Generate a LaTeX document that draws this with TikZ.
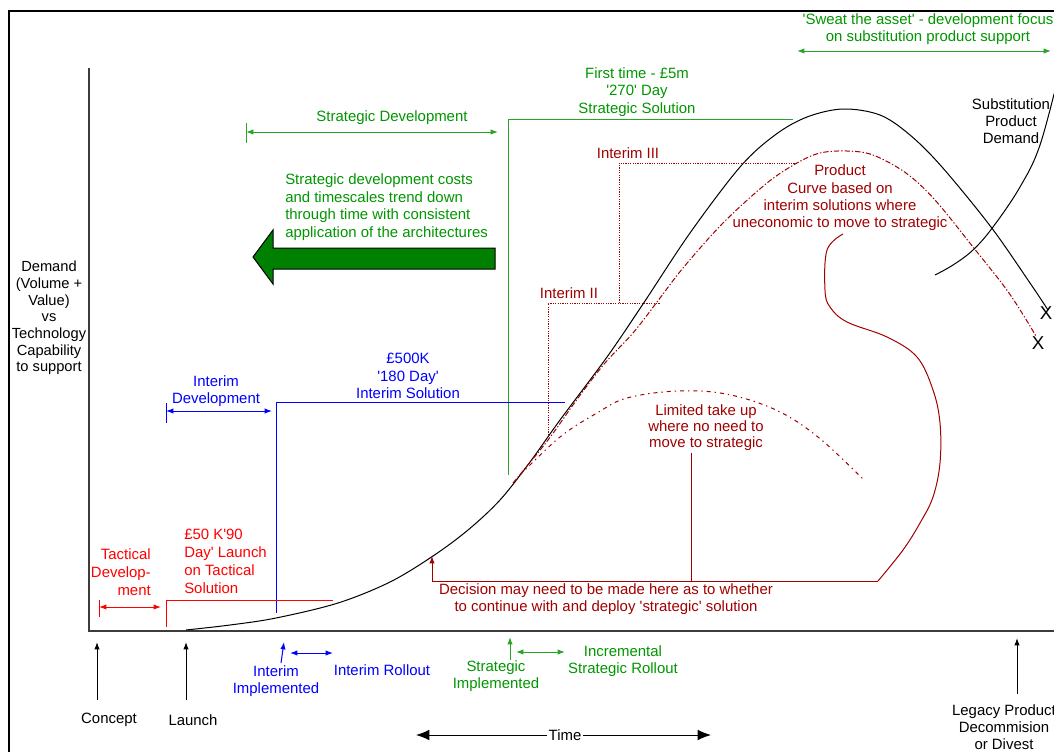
\documentclass[tikz,border=0pt]{standalone}
\usepackage{fontspec}
\newfontfamily\lab{Liberation Sans}
\usetikzlibrary{arrows.meta}
\definecolor{gtext}{RGB}{0,150,0}
\definecolor{gline}{RGB}{40,165,40}
\definecolor{garrow}{RGB}{0,128,0}
\definecolor{dred}{RGB}{160,0,0}
\definecolor{axisgray}{RGB}{60,60,60}
\begin{document}
\begin{tikzpicture}[x=0.75pt,y=-0.75pt,
  txt/.style={font=\lab\fontsize{11.2}{13}\selectfont, inner sep=0pt, align=center},
  tip/.style={-{Latex[length=5.5pt,width=4pt]}},
  dtip/.style={{Latex[length=5.5pt,width=4pt]}-{Latex[length=5.5pt,width=4pt]}},
  ln/.style={line width=0.75pt},
  dashdot/.style={dred, line width=0.75pt, dash pattern=on 4pt off 1.5pt on 1pt off 1.5pt},
  sparse/.style={dred, line width=0.75pt, dash pattern=on 3pt off 3pt on 1pt off 3pt},
  dotline/.style={dred, line width=0.75pt, dash pattern=on 0.9pt off 0.9pt},
  curve/.style={black, line width=0.75pt}
]
\useasboundingbox (0,0) rectangle (1054,751);
\clip (0,0) rectangle (1054,751);
\fill[white] (0,0) rectangle (1054,751);
% frame
\draw[line width=1.5pt] (1100,11) -- (9,11) -- (9,800);
% axes
\draw[axisgray, line width=1.5pt] (89,68) -- (89,631) -- (1080,631);

% y label
\node[txt, font=\lab\fontsize{11}{12.5}\selectfont] (ylab) at (49,318) {Demand\\(Volume +\\Value)\\vs\\Technology\\Capability\\to support};

% ---------- curves ----------
\draw[curve] plot[smooth, tension=0.55] coordinates {(186,630) (230,625) (276,618) (338,603) (390,582) (433,556) (468,530) (500,500) (530,462) (560,420) (607,357) (643,304) (690,233) (740,167) (775,135) (807,117) (843,109) (880,115) (910,135) (942,167) (991,227) (1030,283) (1048,310)};
\draw[dashdot] plot[smooth, tension=0.55] coordinates {(513,483) (548,440) (578,398) (605,363) (633,333) (657,302) (683,268) (723,223) (767,183) (797,163) (820,153) (847,151) (873,155) (906,173) (935,200) (973,247) (1009,293) (1036,336)};
\draw[sparse] plot[smooth, tension=0.6] coordinates {(520,475) (560,437) (597,413) (627,398) (677,391) (726,394) (776,410) (818,437) (864,480)};
\draw[curve] plot[smooth, tension=0.6] coordinates {(935,275) (953,265) (973,250) (993,227) (1020,187) (1040,145) (1060,70)};
\node[txt, font=\lab\fontsize{14}{14}\selectfont] (x1) at (1046,313) {X};
\node[txt, font=\lab\fontsize{14}{14}\selectfont] (x2) at (1038,343) {X};

% ---------- red S curve and decision ----------
\coordinate (dA) at (432,556);
\coordinate (dB) at (432,581);
\coordinate (dC) at (878,581);
\coordinate (lt) at (691,453);
\coordinate (ltb) at (691,581);
\draw[dred, ln, tip] (dB) -- (dA);
\draw[dred, ln] (dB) -- (dC);
\draw[dred, ln] (lt) -- (ltb);
\draw[dred, ln] plot[smooth, tension=0.6] coordinates {(878,581) (903,550) (920,523) (933,497) (940,463) (940,423) (933,390) (917,357) (887,337) (847,322) (830,307) (825,290) (827,250) (843,234)};

% ---------- interim dotted steps ----------
\draw[dotline] (548,435) -- (548,303) -- (660,303);
\draw[dotline] (619,303) -- (619,163) -- (797,163);
\node[txt, dred] (i2) at (569,293) {Interim II};
\node[txt, dred] (i3) at (628,153) {Interim III};

% ---------- green strategic ----------
\draw[gline, ln] (508,475) -- (508,119) -- (793,119);
\node[txt, gtext] (fts) at (637,92) {First time - £5m\\'270' Day\\Strategic Solution};
\coordinate (sdL) at (246,132);
\coordinate (sdR) at (498,132);
\draw[gline, ln] (246,123) -- (246,143);
\draw[gline, ln, dtip] (sdL) -- (sdR);
\node[txt, gtext] (sdlab) at (392,118) {Strategic Development};
\draw[black, line width=0.75pt, fill=garrow] (253,257) -- (273,230) -- (273,248) -- (495,248) -- (495,269) -- (273,269) -- (273,284) -- cycle;
\node[txt, gtext, anchor=west, align=left, font=\lab\fontsize{11.2}{13.3}\selectfont] (sdtext) at (285,207) {Strategic development costs\\and timescales trend down\\through time with consistent\\application of the architectures};
\coordinate (swL) at (797,51);
\coordinate (swR) at (1051,51);
\draw[gline, ln, dtip] (swL) -- (swR);
\node[txt, gtext] (sweat) at (928,29) {'Sweat the asset' - development focus\\on substitution product support};

% ---------- blue interim ----------
\draw[blue, ln] (276,613) -- (276,402) -- (565,402);
\node[txt, blue] (isol) at (408,376) {£500K\\'180 Day'\\Interim Solution};
\coordinate (idL) at (166,411);
\coordinate (idR) at (272,411);
\draw[blue, ln] (166,403) -- (166,423);
\draw[blue, ln, dtip] (idL) -- (idR);
\node[txt, blue] (idev) at (216,391) {Interim\\Development};

% ---------- red tactical ----------
\draw[red, ln] (166,627) -- (166,600) -- (333,600);
\node[txt, red, anchor=west, align=left, font=\lab\fontsize{11.2}{13.5}\selectfont] (tsol) at (184,561) {£50 K'90\\Day' Launch\\on Tactical\\Solution};
\coordinate (tdL) at (99,607);
\coordinate (tdR) at (161,607);
\draw[red, ln] (99,600) -- (99,617);
\draw[red, ln, dtip] (tdL) -- (tdR);
\node[txt, red, anchor=east, align=right, font=\lab\fontsize{11.2}{13.5}\selectfont] (tdev) at (151,572) {Tactical\\Develop-\\ment};

% ---------- texts in plot ----------
\node[txt, dred] (prod) at (840,198) {Product\\Curve based on\\interim solutions where\\uneconomic to move to strategic};
\node[txt] (subst) at (1011,121) {Substitution\\Product\\Demand};
\node[txt, dred, font=\lab\fontsize{11.2}{12}\selectfont] (ltu) at (706,428) {Limited take up\\where no need to\\move to strategic};
\node[txt, dred] (dec) at (606,599) {Decision may need to be made here as to whether\\to continue with and deploy 'strategic' solution};

% ---------- bottom axis ----------
\coordinate (cA) at (97,700); \coordinate (cB) at (97,642);
\draw[ln, tip] (cA) -- (cB);
\node[txt] (concept) at (109,720) {Concept};
\coordinate (lA) at (186,700); \coordinate (lB) at (186,642);
\draw[ln, tip] (lA) -- (lB);
\node[txt] (launch) at (193,720) {Launch};
\coordinate (iiA) at (281,663); \coordinate (iiB) at (284,642);
\draw[blue, ln, tip] (iiA) -- (iiB);
\node[txt, blue] (iimp) at (276,681) {Interim\\Implemented};
\coordinate (irL) at (290,653); \coordinate (irR) at (333,653);
\draw[blue, ln, dtip] (irL) -- (irR);
\node[txt, blue] (iroll) at (382,670) {Interim Rollout};
\coordinate (siA) at (510,660); \coordinate (siB) at (510,637);
\draw[gline, ln, tip] (siA) -- (siB);
\node[txt, gtext] (simp) at (496,676) {Strategic\\Implemented};
\coordinate (srL) at (516,652); \coordinate (srR) at (565,652);
\draw[gline, ln, dtip] (srL) -- (srR);
\node[txt, gtext] (sroll) at (623,661) {Incremental\\Strategic Rollout};
\node[txt, inner xsep=1pt] (time) at (565,735) {Time};
\coordinate (tL) at (416,735); \coordinate (tR) at (711,735);
\draw[ln, -{Latex[length=10pt,width=8pt]}] (time.west) -- (tL);
\draw[ln, -{Latex[length=10pt,width=8pt]}] (time.east) -- (tR);
\coordinate (lgA) at (1017,694); \coordinate (lgB) at (1017,638);
\draw[ln, tip] (lgA) -- (lgB);
\node[txt] (legacy) at (1004,727) {Legacy Product\\Decommision\\or Divest};
\end{tikzpicture}
\end{document}
